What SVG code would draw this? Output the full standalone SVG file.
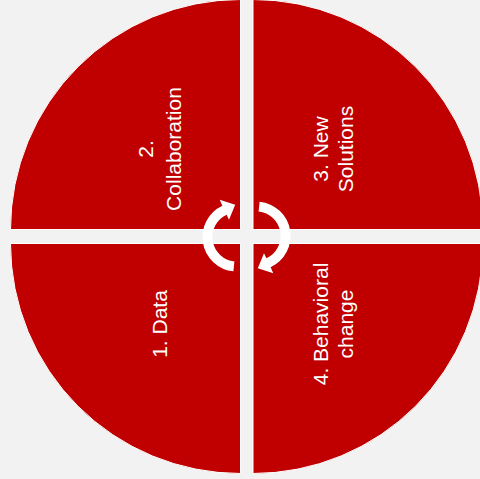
<svg xmlns="http://www.w3.org/2000/svg" width="480" height="479" viewBox="0 0 480 479">
<style>
.q{fill:#C00000;stroke:#FFFFFF;stroke-width:1}
.t{font-family:"Liberation Sans",Arial,sans-serif;font-size:21px;fill:#FFFFFF;text-anchor:middle}
.arr{fill:#FFFFFF}
</style>
<defs>
<path id="circArrow" d="M233.4 271.3 A34.5 34.5 0 0 1 222.4 205.7 L219.7 199.8 L235.2 204.7 L229 219.8 L226.6 214.8 A24.5 24.5 0 0 0 234.4 261.4 Z"/>
</defs>
<rect width="480" height="479" fill="#F2F2F2"/>
<g id="node-collaboration">
<path class="q" d="M240.5 229.5 L10.5 229.5 A230 230 0 0 1 240.5 -0.5 Z"/>
<text class="t" transform="translate(153,149) rotate(-90)"><tspan x="0" y="0">2.</tspan><tspan x="0" y="28">Collaboration</tspan></text>
</g>
<g id="node-new-solutions">
<path class="q" d="M253 229.5 L253 -0.5 A230 230 0 0 1 483 229.5 Z"/>
<text class="t" transform="translate(328,149) rotate(-90)"><tspan x="0" y="0">3. New</tspan><tspan x="0" y="25">Solutions</tspan></text>
</g>
<g id="node-data">
<path class="q" d="M240.5 243.5 L240.5 473.5 A230 230 0 0 1 10.5 243.5 Z"/>
<text class="t" transform="translate(166.7,324) rotate(-90)"><tspan x="0" y="0">1. Data</tspan></text>
</g>
<g id="node-behavioral-change">
<path class="q" d="M253 243.5 L483 243.5 A230 230 0 0 1 253 473.5 Z"/>
<text class="t" transform="translate(328,324) rotate(-90)"><tspan x="0" y="0">4. Behavioral</tspan><tspan x="0" y="25">change</tspan></text>
</g>
<g id="connectors">
<use href="#circArrow" class="arr"/>
<use href="#circArrow" class="arr" transform="rotate(180 246.5 236.5)"/>
</g>
</svg>
